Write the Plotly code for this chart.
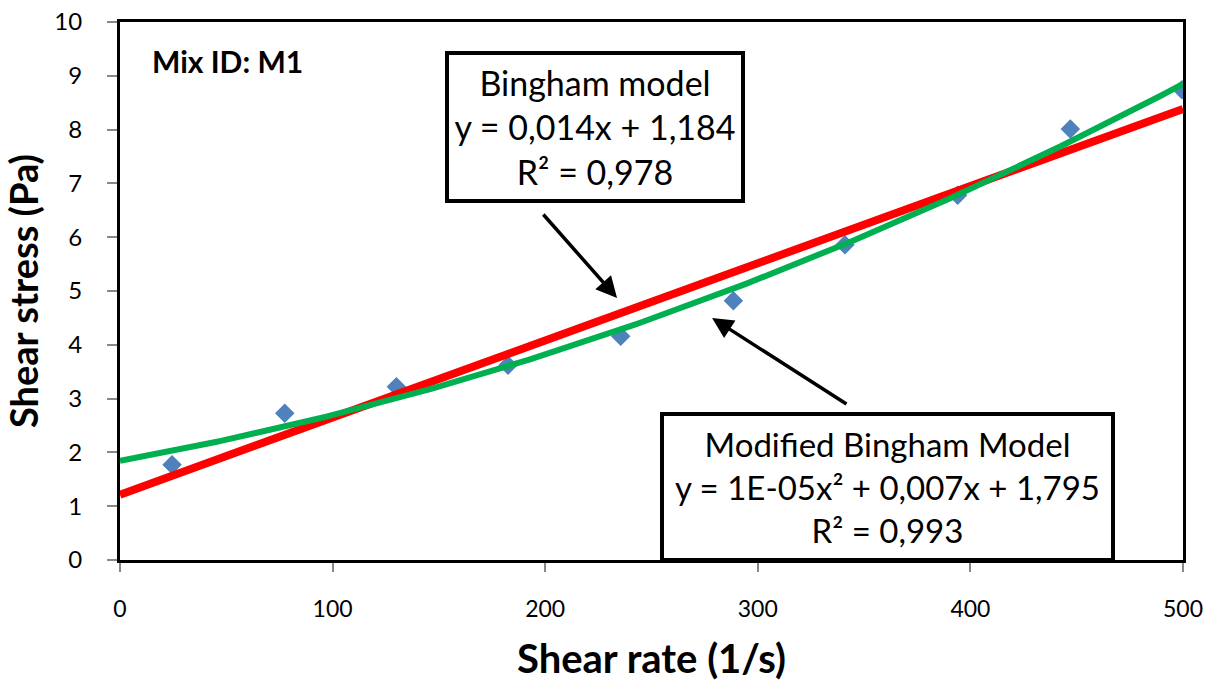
import numpy as np
import plotly.graph_objects as go

# Data
shear_rate = [24.5, 77.5, 130, 182.5, 235.5, 288.5, 341, 394, 447, 499.5]
shear_stress = [1.77, 2.73, 3.22, 3.62, 4.16, 4.82, 5.86, 6.78, 8.01, 8.74]
x_ticks = [0, 100, 200, 300, 400, 500]
y_ticks = list(range(0, 11))

bingham_label = "Bingham model<br>y = 0,014x + 1,184<br>R² = 0,978"
modified_label = "Modified Bingham Model<br>y = 1E-05x² + 0,007x + 1,795<br>R² = 0,993"
mix_label = "<b>Mix ID: M1</b>"

# Trendlines (least squares, as the spreadsheet trendlines)
lin = np.polyfit(shear_rate, shear_stress, 1)
quad = np.polyfit(shear_rate, shear_stress, 2)
xf = np.linspace(0, 500, 201)

FONT = "Lato"

fig = go.Figure()
fig.add_trace(go.Scatter(x=shear_rate, y=shear_stress, mode="markers",
                         marker=dict(symbol="diamond", size=15, color="#4F81BD"),
                         showlegend=False))
fig.add_trace(go.Scatter(x=xf, y=np.polyval(lin, xf), mode="lines",
                         line=dict(color="#FF0000", width=8), showlegend=False))
fig.add_trace(go.Scatter(x=xf, y=np.polyval(quad, xf), mode="lines",
                         line=dict(color="#00B050", width=6), showlegend=False))

fig.update_layout(
    width=1222, height=686,
    margin=dict(l=120, r=39, t=22, b=126),
    paper_bgcolor="white", plot_bgcolor="white",
    font=dict(family=FONT, color="black"),
    xaxis=dict(range=[0, 500], tickvals=x_ticks, showgrid=False, zeroline=False,
               automargin=False,
               showline=True, linecolor="black", linewidth=3, mirror=True,
               ticks="outside", ticklen=9, tickcolor="#888888", tickwidth=1.5,
               ticklabelstandoff=17, ticklabeloverflow="allow",
               tickfont=dict(size=23, family=FONT),
               title=dict(text="<b>Shear rate (1/s)</b>", font=dict(size=40, family=FONT),
                          standoff=25)),
    yaxis=dict(range=[0, 10], tickvals=y_ticks, showgrid=False, zeroline=False,
               automargin=False,
               showline=True, linecolor="black", linewidth=3, mirror=True,
               ticks="outside", ticklen=10, tickcolor="#888888", tickwidth=1.5,
               ticklabelstandoff=20, ticklabeloverflow="allow",
               tickfont=dict(size=24, family=FONT),
               title=dict(text="<b>Shear stress (Pa)</b>", font=dict(size=38, family=FONT),
                          standoff=12)),
)

# Mix ID label
fig.add_annotation(text=mix_label, xref="x", yref="y", x=14, y=9.28,
                   xanchor="left", yanchor="middle", showarrow=False,
                   font=dict(size=30, family=FONT, color="black"))

# Boxed equations
fig.add_annotation(text=bingham_label, xref="x", yref="y", x=223.4, y=8.05,
                   showarrow=False, align="center",
                   width=292, height=144, bgcolor="white",
                   bordercolor="black", borderwidth=4, borderpad=0,
                   font=dict(size=34, family=FONT, color="black"))
fig.add_annotation(text=modified_label, xref="x", yref="y", x=361, y=1.36,
                   showarrow=False, align="center",
                   width=447, height=142, bgcolor="white",
                   bordercolor="black", borderwidth=4, borderpad=0,
                   font=dict(size=33, family=FONT, color="black"))

# Arrows
fig.add_annotation(x=233.8, y=4.87, ax=198.5, ay=6.45, xref="x", yref="y",
                   axref="x", ayref="y", text="", showarrow=True,
                   arrowhead=2, arrowsize=1.2, arrowwidth=3.5, arrowcolor="black")
fig.add_annotation(x=278.5, y=4.50, ax=342.4, ay=2.88, xref="x", yref="y",
                   axref="x", ayref="y", text="", showarrow=True,
                   arrowhead=2, arrowsize=1.2, arrowwidth=3.5, arrowcolor="black")

# remove the default page margin so the figure fills the window exactly
fig.write_html("out.html", config={"displayModeBar": False},
               post_script="document.body.style.margin='0';")
